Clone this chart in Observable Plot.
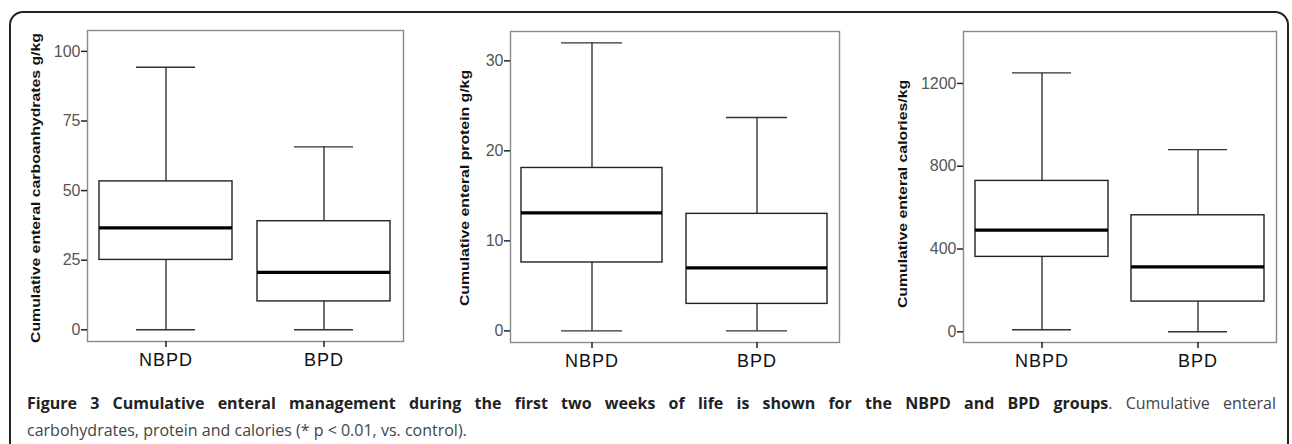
<!DOCTYPE html>
<html><head><meta charset="utf-8">
<script src="https://cdn.jsdelivr.net/npm/d3@7"></script>
<script src="https://cdn.jsdelivr.net/npm/@observablehq/plot@0.6"></script>
<style>
html,body{margin:0;padding:0;background:#fff;}
#wrap{position:relative;width:1292px;height:444px;overflow:hidden;background:#fff;}
#border{position:absolute;left:9px;top:11px;width:1280px;height:480px;border:2px solid #222;border-radius:14px;box-sizing:border-box;}
.panel{position:absolute;top:0;}
.panel svg [aria-label="x-axis tick label"]{letter-spacing:1px;}
.ytitle{position:absolute;font-family:"Liberation Sans",Arial,sans-serif;font-size:13.5px;font-weight:bold;color:#111;white-space:nowrap;transform:translate(-50%,-50%) rotate(-90deg) scaleX(1.17);line-height:14px;}
.cap{position:absolute;left:27px;font-family:"Open Sans",sans-serif;font-size:16px;line-height:24px;color:#444;white-space:nowrap;}
#cap1{top:391px;width:1249px;text-align:justify;text-align-last:justify;white-space:normal;}
#cap2{top:418px;}
.cap b{color:#222;}
</style>
</head><body>
<div id="wrap">
  <div id="border"></div>
  <div class="panel" id="p1" style="left:0px"></div>
  <div class="panel" id="p2" style="left:430px"></div>
  <div class="panel" id="p3" style="left:860px"></div>
  <div class="ytitle" id="t1" style="left:35.5px;top:188px"></div>
  <div class="ytitle" id="t2" style="left:465px;top:187.5px"></div>
  <div class="ytitle" id="t3" style="left:903px;top:194px"></div>
  <div class="cap" id="cap1"><b>Figure 3 Cumulative enteral management during the first two weeks of life is shown for the NBPD and BPD groups</b>. Cumulative enteral</div>
  <div class="cap" id="cap2">carbohydrates, protein and calories (* p &lt; 0.01, vs. control).</div>
</div>
<script>
// Categories
const groups = ["NBPD", "BPD"];

// Carbohydrates g/kg
const carbMin = [0, 0];
const carbQ1 = [25.1, 10.2];
const carbMed = [36.6, 20.6];
const carbQ3 = [53.3, 39.0];
const carbMax = [94.3, 65.7];
const carbTicks = [0, 25, 50, 75, 100];

// Protein g/kg
const protMin = [0, 0];
const protQ1 = [7.6, 3.0];
const protMed = [13.1, 7.0];
const protQ3 = [18.1, 13.0];
const protMax = [32.0, 23.7];
const protTicks = [0, 10, 20, 30];

// Calories/kg
const calMin = [10, 0];
const calQ1 = [362, 146];
const calMed = [491, 314];
const calQ3 = [729, 563];
const calMax = [1251, 880];
const calTicks = [0, 400, 800, 1200];

const titles = [
  "Cumulative enteral carboanhydrates g/kg",
  "Cumulative enteral protein g/kg",
  "Cumulative enteral calories/kg"
];

function rowsOf(mn, q1, md, q3, mx) {
  return groups.map((g, i) => ({g, min: mn[i], q1: q1[i], med: md[i], q3: q3[i], max: mx[i]}));
}

const FONT = "Liberation Sans, Arial, sans-serif";

function panel(rows, cfg) {
  return Plot.plot({
    width: cfg.width, height: 370,
    marginLeft: cfg.ml, marginRight: cfg.mr, marginTop: cfg.mt, marginBottom: cfg.mb,
    style: {background: "transparent", overflow: "visible"},
    x: {domain: groups, paddingInner: cfg.pi, paddingOuter: cfg.po, align: 0.5},
    y: {domain: cfg.ydom},
    marks: [
      Plot.frame({stroke: "#8a8a8a", strokeWidth: 1.4}),
      Plot.ruleX(rows, {x: "g", y1: "min", y2: "max", stroke: "#333", strokeWidth: 1.4}),
      Plot.barY(rows, {x: "g", y1: "q1", y2: "q3", fill: "white", stroke: "#222", strokeWidth: 1.4}),
      Plot.tickY(rows, {x: "g", y: "med", stroke: "#000", strokeWidth: 3.2}),
      Plot.tickY(rows, {x: "g", y: "min", inset: cfg.cap, stroke: "#333", strokeWidth: 1.4}),
      Plot.tickY(rows, {x: "g", y: "max", inset: cfg.cap, stroke: "#333", strokeWidth: 1.4}),
      Plot.axisY({ticks: cfg.ticks, tickFormat: d => String(d), tickSize: 6, tickPadding: 1, label: null,
        stroke: "#222", strokeWidth: 1.5, fill: "#555", fontFamily: FONT, fontSize: 16}),
      Plot.axisX({tickSize: 6, tickPadding: 6, label: null,
        stroke: "#222", strokeWidth: 1.5, fill: "#111", fontFamily: FONT, fontSize: 18})
    ]
  });
}

document.getElementById("p1").append(panel(rowsOf(carbMin, carbQ1, carbMed, carbQ3, carbMax),
  {width: 430, ml: 87, mr: 27, mt: 30, mb: 29, pi: 0.157, po: 0.076, ydom: [-4.2, 107.5], ticks: carbTicks, cap: 37}));
document.getElementById("p2").append(panel(rowsOf(protMin, protQ1, protMed, protQ3, protMax),
  {width: 430, ml: 80, mr: 21, mt: 31, mb: 28, pi: 0.143, po: 0.067, ydom: [-1.29, 33.26], ticks: protTicks, cap: 40}));
document.getElementById("p3").append(panel(rowsOf(calMin, calQ1, calMed, calQ3, calMax),
  {width: 432, ml: 103, mr: 16, mt: 31, mb: 28, pi: 0.149, po: 0.072, ydom: [-51.7, 1451], ticks: calTicks, cap: 37}));

document.getElementById("t1").textContent = titles[0];
document.getElementById("t2").textContent = titles[1];
document.getElementById("t3").textContent = titles[2];
</script>
</body></html>
